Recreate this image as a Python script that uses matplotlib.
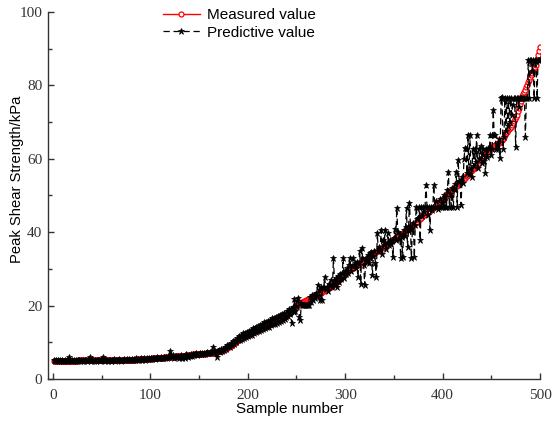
import matplotlib
matplotlib.use("Agg")
import matplotlib.pyplot as plt
from matplotlib.ticker import MultipleLocator

# Peak shear strength (kPa) for each sample, sorted by measured value
measured = [
    5.0, 5.0, 5.0, 5.0, 5.0, 5.0, 5.0, 5.0, 5.0, 5.0,
    5.0, 5.0, 5.0, 5.0, 5.0, 5.0, 5.0, 5.0, 5.0, 5.0,
    5.0, 5.0, 5.0, 5.0, 5.0, 5.1, 5.1, 5.1, 5.1, 5.1,
    5.1, 5.1, 5.1, 5.1, 5.1, 5.1, 5.1, 5.1, 5.1, 5.1,
    5.1, 5.1, 5.1, 5.1, 5.1, 5.1, 5.1, 5.1, 5.1, 5.1,
    5.1, 5.1, 5.1, 5.2, 5.2, 5.2, 5.2, 5.2, 5.2, 5.2,
    5.2, 5.2, 5.2, 5.2, 5.2, 5.2, 5.2, 5.2, 5.2, 5.2,
    5.2, 5.2, 5.2, 5.3, 5.3, 5.3, 5.3, 5.3, 5.3, 5.3,
    5.3, 5.3, 5.3, 5.3, 5.4, 5.4, 5.4, 5.4, 5.4, 5.4,
    5.4, 5.4, 5.4, 5.4, 5.5, 5.5, 5.5, 5.5, 5.5, 5.5,
    5.5, 5.6, 5.6, 5.6, 5.6, 5.7, 5.7, 5.7, 5.7, 5.8,
    5.8, 5.8, 5.8, 5.9, 5.9, 5.9, 6.0, 6.0, 6.0, 6.0,
    6.0, 6.1, 6.1, 6.1, 6.1, 6.2, 6.2, 6.2, 6.2, 6.2,
    6.3, 6.3, 6.3, 6.4, 6.4, 6.4, 6.5, 6.5, 6.5, 6.5,
    6.6, 6.6, 6.6, 6.7, 6.7, 6.7, 6.7, 6.8, 6.8, 6.8,
    6.8, 6.8, 6.9, 6.9, 6.9, 6.9, 7.0, 7.0, 7.0, 7.0,
    7.1, 7.1, 7.2, 7.2, 7.3, 7.3, 7.4, 7.4, 7.5, 7.5,
    7.6, 7.6, 7.7, 7.7, 7.8, 7.9, 8.1, 8.3, 8.5, 8.7,
    8.8, 8.9, 9.1, 9.3, 9.5, 9.7, 9.9, 10.1, 10.3, 10.5,
    10.7, 10.9, 11.1, 11.3, 11.5, 11.6, 11.7, 11.8, 11.9, 12.1,
    12.2, 12.3, 12.4, 12.6, 12.8, 12.9, 13.0, 13.1, 13.3, 13.4,
    13.5, 13.6, 13.7, 13.8, 13.9, 14.0, 14.1, 14.2, 14.4, 14.5,
    14.6, 14.8, 14.9, 15.0, 15.2, 15.3, 15.4, 15.6, 15.7, 15.8,
    16.0, 16.1, 16.2, 16.4, 16.5, 16.7, 16.9, 17.1, 17.3, 17.5,
    17.7, 17.9, 18.1, 18.3, 18.5, 18.8, 19.1, 19.4, 19.7, 20.0,
    20.2, 20.3, 20.5, 20.6, 20.8, 20.9, 21.0, 21.2, 21.3, 21.5,
    21.6, 21.8, 21.9, 22.0, 22.2, 22.3, 22.5, 22.6, 22.7, 22.9,
    23.0, 23.2, 23.3, 23.4, 23.5, 23.7, 23.9, 24.0, 24.2, 24.3,
    24.5, 24.7, 24.8, 25.0, 25.2, 25.3, 25.5, 25.7, 25.8, 26.0,
    26.3, 26.5, 26.8, 27.1, 27.3, 27.6, 27.9, 28.1, 28.4, 28.7,
    29.0, 29.2, 29.5, 29.7, 29.8, 30.0, 30.2, 30.3, 30.5, 30.7,
    30.8, 31.0, 31.2, 31.3, 31.5, 31.7, 31.9, 32.0, 32.2, 32.4,
    32.6, 32.8, 33.0, 33.1, 33.3, 33.5, 33.7, 33.9, 34.1, 34.3,
    34.5, 34.7, 34.8, 35.0, 35.2, 35.4, 35.6, 35.8, 35.9, 36.1,
    36.3, 36.5, 36.7, 36.9, 37.1, 37.3, 37.5, 37.7, 37.9, 38.1,
    38.3, 38.5, 38.6, 38.8, 39.0, 39.2, 39.4, 39.6, 39.8, 40.0,
    40.2, 40.4, 40.6, 40.8, 41.0, 41.2, 41.4, 41.6, 41.8, 42.0,
    42.2, 42.4, 42.6, 42.9, 43.2, 43.5, 43.7, 44.0, 44.3, 44.6,
    44.8, 45.0, 45.1, 45.3, 45.5, 45.7, 45.9, 46.2, 46.4, 46.6,
    46.9, 47.1, 47.3, 47.6, 47.8, 48.0, 48.3, 48.5, 48.7, 49.0,
    49.2, 49.5, 49.7, 50.0, 50.2, 50.5, 50.7, 51.0, 51.2, 51.5,
    51.7, 52.0, 52.2, 52.5, 52.7, 53.0, 53.2, 53.5, 53.7, 54.0,
    54.3, 54.6, 54.9, 55.2, 55.4, 55.7, 56.0, 56.3, 56.6, 56.9,
    57.1, 57.4, 57.7, 58.0, 58.3, 58.6, 58.9, 59.3, 59.6, 59.9,
    60.2, 60.5, 60.8, 61.2, 61.5, 61.8, 62.0, 62.3, 62.6, 62.8,
    63.1, 63.3, 63.5, 63.7, 63.9, 64.1, 64.2, 64.4, 64.6, 64.8,
    65.0, 65.5, 66.0, 66.4, 66.9, 67.4, 67.8, 68.1, 68.5, 68.8,
    69.2, 69.8, 70.3, 70.9, 71.4, 72.0, 72.9, 73.8, 74.8, 75.7,
    76.6, 77.1, 77.6, 78.2, 78.7, 79.5, 80.2, 81.0, 81.6, 82.2,
    82.8, 83.3, 83.9, 84.5, 85.0, 85.6, 87.0, 88.4, 89.5, 90.5,
]

predicted = [
    5.1, 4.9, 5.2, 5.0, 5.3, 4.9, 5.1, 5.0, 5.2, 4.9,
    5.0, 5.2, 4.9, 5.1, 5.3, 5.0, 5.9, 5.1, 4.9, 5.2,
    5.0, 5.1, 4.9, 5.2, 5.0, 5.3, 5.1, 4.9, 5.2, 5.0,
    5.2, 5.0, 5.3, 5.1, 4.9, 5.2, 5.4, 6.1, 5.0, 5.2,
    5.1, 4.9, 5.3, 5.0, 5.2, 5.1, 5.3, 5.0, 5.2, 5.4,
    6.0, 5.2, 5.0, 5.3, 5.1, 5.2, 4.9, 5.3, 5.2, 5.0,
    5.3, 5.1, 5.4, 5.0, 5.2, 5.3, 5.1, 5.4, 5.2, 5.0,
    5.3, 5.2, 5.4, 5.1, 5.3, 5.5, 5.2, 5.4, 5.3, 5.1,
    5.4, 5.2, 5.5, 5.3, 5.6, 5.2, 5.4, 5.3, 5.5, 5.6,
    5.3, 5.5, 5.4, 5.6, 5.3, 5.5, 5.7, 5.4, 5.6, 5.5,
    5.7, 5.4, 5.6, 5.8, 5.5, 5.7, 5.9, 5.6, 5.8, 5.7,
    5.9, 5.6, 5.8, 6.0, 5.7, 6.1, 5.8, 6.0, 6.4, 7.6,
    6.3, 6.0, 6.5, 5.8, 6.2, 6.4, 6.0, 6.3, 5.7, 6.1,
    6.0, 6.6, 5.6, 6.4, 6.2, 5.8, 6.7, 6.3, 5.9, 6.6,
    6.4, 6.8, 6.2, 6.9, 6.5, 6.7, 7.0, 6.6, 6.9, 6.8,
    7.0, 6.7, 7.1, 6.9, 7.2, 6.8, 7.1, 7.3, 7.0, 7.2,
    7.3, 7.1, 7.5, 8.7, 7.4, 7.6, 7.2, 6.1, 7.5, 7.7,
    7.8, 7.3, 8.1, 7.6, 8.2, 8.0, 8.6, 8.3, 9.2, 9.0,
    9.4, 8.7, 9.9, 9.2, 10.4, 9.6, 10.7, 10.0, 11.1, 10.6,
    11.6, 10.6, 11.9, 11.0, 12.4, 11.2, 12.5, 11.5, 12.8, 11.7,
    13.0, 11.9, 13.3, 12.1, 13.8, 12.4, 14.0, 12.7, 14.2, 13.0,
    14.5, 13.0, 14.8, 13.4, 15.1, 13.6, 15.4, 13.9, 15.6, 14.1,
    15.8, 14.3, 16.1, 14.6, 16.5, 14.9, 16.6, 15.1, 16.9, 15.3,
    17.2, 15.4, 17.5, 15.8, 17.8, 16.0, 18.1, 16.3, 17.0, 18.6,
    17.1, 19.0, 17.6, 19.2, 15.3, 19.6, 18.2, 21.9, 18.5, 20.0,
    21.3, 22.0, 17.0, 16.1, 20.8, 20.2, 20.2, 20.2, 20.2, 20.2,
    20.2, 20.2, 20.2, 22.4, 21.0, 22.8, 21.5, 23.0, 22.2, 23.4,
    22.5, 25.6, 24.2, 21.5, 25.0, 21.5, 24.8, 25.0, 27.8, 24.6,
    25.2, 24.0, 26.0, 25.5, 27.0, 25.1, 25.6, 33.0, 26.8, 26.0,
    27.4, 25.0, 28.0, 26.5, 28.5, 27.2, 29.0, 33.0, 27.5, 29.5,
    28.6, 30.2, 29.0, 31.0, 33.0, 29.5, 30.8, 33.0, 31.0, 31.6,
    30.2, 32.0, 27.8, 31.5, 35.0, 26.0, 35.7, 32.6, 31.0, 25.6,
    33.0, 32.0, 33.8, 31.5, 34.2, 33.0, 34.5, 28.3, 33.6, 35.0,
    31.6, 27.8, 39.8, 34.8, 36.0, 35.2, 40.6, 34.0, 37.9, 36.5,
    40.6, 35.5, 37.0, 39.8, 36.5, 38.0, 36.8, 37.5, 33.2, 38.5,
    41.0, 37.8, 46.6, 40.0, 38.2, 39.5, 33.0, 38.8, 33.2, 40.5,
    39.0, 41.5, 46.6, 36.0, 40.5, 48.0, 41.8, 33.0, 40.8, 42.5,
    33.2, 42.0, 47.0, 43.5, 44.0, 47.0, 37.9, 47.0, 44.5, 47.0,
    45.5, 47.0, 52.9, 47.0, 44.8, 47.0, 40.6, 47.0, 46.0, 47.0,
    52.9, 47.0, 48.5, 47.0, 46.2, 47.0, 49.0, 47.0, 48.0, 47.0,
    50.0, 47.0, 49.5, 47.0, 51.5, 56.4, 47.0, 50.5, 47.0, 52.0,
    47.0, 51.8, 53.0, 56.4, 47.0, 59.7, 54.0, 54.0, 47.4, 55.0,
    53.5, 60.0, 63.0, 62.8, 56.0, 66.5, 55.8, 66.5, 57.5, 55.0,
    62.8, 58.0, 62.8, 59.0, 66.5, 57.5, 62.8, 60.0, 63.5, 58.8,
    62.8, 61.0, 59.5, 56.0, 62.8, 60.5, 63.0, 62.8, 66.5, 61.0,
    62.8, 73.3, 66.5, 66.5, 62.8, 64.0, 62.8, 65.5, 60.2, 76.5,
    76.8, 62.8, 66.0, 76.5, 67.5, 76.5, 69.0, 76.5, 70.0, 76.5,
    72.0, 74.6, 76.5, 76.5, 63.3, 76.5, 76.5, 74.0, 76.5, 76.5,
    76.5, 76.5, 76.5, 76.5, 66.0, 76.5, 76.5, 87.0, 76.5, 87.0,
    87.0, 84.0, 87.0, 76.5, 87.0, 87.0, 76.5, 87.0, 87.0, 87.0,
]

sample = list(range(1, len(measured) + 1))

x_ticks = [0, 100, 200, 300, 400, 500]
y_ticks = [0, 20, 40, 60, 80, 100]

sans = ["Liberation Sans", "DejaVu Sans"]
serif = ["Liberation Serif", "DejaVu Serif"]

fig = plt.figure(figsize=(5.6, 4.23), dpi=100)
ax = fig.add_axes([48 / 560, 44 / 423, (540 - 48) / 560, (379 - 12) / 423])

ax.plot(sample, measured, color="red", lw=1.0, marker="o", ms=3.6,
        mfc="white", mec="red", mew=0.9, label="Measured value", zorder=2)
ax.plot(sample, predicted, color="black", lw=0.9, ls=(0, (5, 3)),
        marker="*", ms=5, mfc="black", mec="black", mew=0.5,
        label="Predictive value", zorder=3)

ax.set_xlim(-5, 500)
ax.set_ylim(0, 100)
ax.set_xticks(x_ticks)
ax.set_yticks(y_ticks)
ax.xaxis.set_minor_locator(MultipleLocator(50))
ax.yaxis.set_minor_locator(MultipleLocator(10))

for side in ("top", "right"):
    ax.spines[side].set_visible(False)
for side in ("left", "bottom"):
    ax.spines[side].set_color("#333333")
    ax.spines[side].set_linewidth(1.0)

ax.tick_params(which="both", direction="in", color="#333333", width=1.0)
ax.tick_params(which="major", length=4, labelsize=11)
ax.tick_params(which="minor", length=3)
ax.tick_params(axis="x", which="major", pad=7)
ax.tick_params(axis="y", which="major", pad=4)
for lab in ax.get_xticklabels() + ax.get_yticklabels():
    lab.set_family(serif)
    lab.set_color("#333333")

ax.set_xlabel("Sample number", family=sans, fontsize=11)
ax.xaxis.set_label_coords(0.492, -0.062)
ax.xaxis.label.set_va("top")
ax.set_ylabel("Peak Shear Strength/kPa", family=sans, fontsize=10.6)
ax.yaxis.set_label_coords(-0.049, 0.545)

ax.legend(loc="upper left", bbox_to_anchor=(163 / 560, 1 - 8 / 423),
          bbox_transform=fig.transFigure, frameon=False, numpoints=1,
          handlelength=2.4, handletextpad=0.5, labelspacing=0.25,
          borderpad=0, borderaxespad=0, prop={"family": sans, "size": 11})

fig.savefig("out.png", dpi=100)
